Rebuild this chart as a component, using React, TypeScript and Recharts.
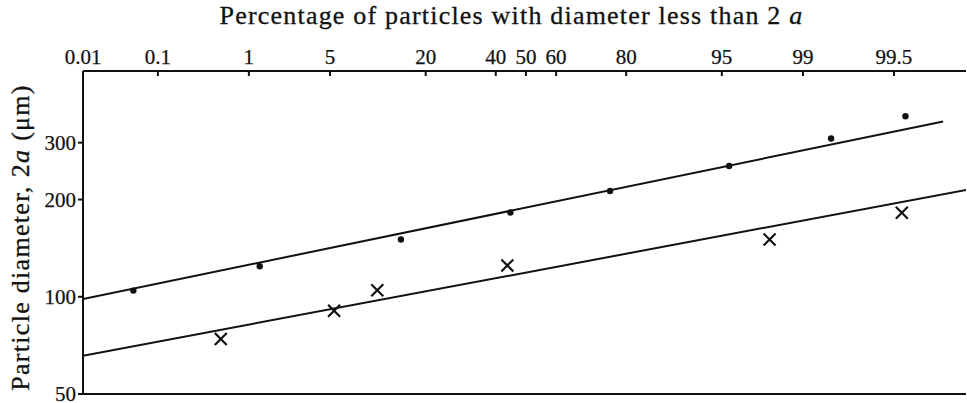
import React from 'react';
import { ScatterChart, Scatter, XAxis, YAxis, ReferenceLine } from 'recharts';

// Measured samples: percentage undersize vs. particle diameter (µm)
const dotPercent = [0.049, 1.27, 14.7, 44.8, 76.0, 95.6, 99.48, 99.928];
const dotDiameter = [104.5, 124.3, 150.4, 182.4, 212.5, 254, 309, 362];

const crossPercent = [0.52, 5.36, 10.6, 43.8, 97.96, 99.92];
const crossDiameter = [74, 90.5, 104.7, 125, 150.4, 182];

// Fitted log-normal lines (end points)
const upperFitPercent = [0.01, 99.977];
const upperFitDiameter = [98.4, 349];
const lowerFitPercent = [0.01, 99.99];
const lowerFitDiameter = [65.7, 215];

// Probability-paper ticks on the top axis
const tickPercent = [0.01, 0.1, 1, 5, 20, 40, 50, 60, 80, 95, 99, 99.9];
const tickLabels = ['0.01', '0.1', '1', '5', '20', '40', '50', '60', '80', '95', '99', '99.5'];
const axisPercentRange = [0.01, 99.989];

const diameterTicks = [50, 100, 200, 300];
const diameterRange = [50, 500];

const FONT = '"Liberation Serif", "Times New Roman", serif';
const INK = '#111';

// Inverse of the standard normal CDF (Acklam's approximation)
function probit(p: number): number {
  const a = [-3.969683028665376e1, 2.209460984245205e2, -2.759285104469687e2, 1.38357751867269e2, -3.066479806614716e1, 2.506628277459239];
  const b = [-5.447609879822406e1, 1.615858368580409e2, -1.556989798598866e2, 6.680131188771972e1, -1.328068155288572e1];
  const c = [-7.784894002430293e-3, -3.223964580411365e-1, -2.400758277161838, -2.549732539343734, 4.374664141464968, 2.938163982698783];
  const d = [7.784695709041462e-3, 3.224671290700398e-1, 2.445134137142996, 3.754408661907416];
  const pl = 0.02425;
  const ph = 1 - pl;
  if (p < pl) {
    const q = Math.sqrt(-2 * Math.log(p));
    return (((((c[0] * q + c[1]) * q + c[2]) * q + c[3]) * q + c[4]) * q + c[5]) / ((((d[0] * q + d[1]) * q + d[2]) * q + d[3]) * q + 1);
  }
  if (p <= ph) {
    const q = p - 0.5;
    const r = q * q;
    return ((((((a[0] * r + a[1]) * r + a[2]) * r + a[3]) * r + a[4]) * r + a[5]) * q) / (((((b[0] * r + b[1]) * r + b[2]) * r + b[3]) * r + b[4]) * r + 1);
  }
  const q = Math.sqrt(-2 * Math.log(1 - p));
  return -(((((c[0] * q + c[1]) * q + c[2]) * q + c[3]) * q + c[4]) * q + c[5]) / ((((d[0] * q + d[1]) * q + d[2]) * q + d[3]) * q + 1);
}

const z = (pct: number) => probit(pct / 100);
const rows = (pct: number[], dia: number[]) => pct.map((p, i) => ({ z: z(p), d: dia[i] }));

const dots = rows(dotPercent, dotDiameter);
const crosses = rows(crossPercent, crossDiameter);
const upperFit = rows(upperFitPercent, upperFitDiameter);
const lowerFit = rows(lowerFitPercent, lowerFitDiameter);
const tickZ = tickPercent.map(z);
const xDomain = axisPercentRange.map(z);

const TopTick = (props: any) => {
  const { x, y, index } = props;
  return (
    <g>
      <line x1={x} x2={x} y1={y + 7} y2={y + 12} stroke={INK} strokeWidth={2} />
      <text x={x} y={y} textAnchor="middle" fontFamily={FONT} fontSize={21} fill={INK} stroke={INK} strokeWidth={0.25}>
        {tickLabels[index]}
      </text>
    </g>
  );
};

const DotShape = (props: any) => <circle cx={props.cx} cy={props.cy} r={3.2} fill={INK} />;

const CrossShape = (props: any) => {
  const { cx, cy } = props;
  const s = 6;
  return (
    <g stroke={INK} strokeWidth={2.2}>
      <line x1={cx - s} y1={cy - s} x2={cx + s} y2={cy + s} />
      <line x1={cx - s} y1={cy + s} x2={cx + s} y2={cy - s} />
    </g>
  );
};

const NoShape = () => <g />;

const TitleLabel = (props: any) => {
  const vb = props.viewBox;
  return (
    <text
      x={vb.x + vb.width / 2 - 13}
      y={24}
      textAnchor="middle"
      fontFamily={FONT}
      fontSize={26}
      letterSpacing={1.2}
      fill={INK}
      stroke={INK}
      strokeWidth={0.3}
    >
      Percentage of particles with diameter less than 2 <tspan fontStyle="italic">a</tspan>
    </text>
  );
};

const YTitle = (props: any) => {
  const vb = props.viewBox;
  const cx = vb.x + 29;
  const cy = vb.y + vb.height / 2 + 5;
  return (
    <text
      x={cx}
      y={cy}
      transform={`rotate(-90 ${cx} ${cy})`}
      textAnchor="middle"
      fontFamily={FONT}
      fontSize={26}
      letterSpacing={1.3}
      fill={INK}
      stroke={INK}
      strokeWidth={0.3}
    >
      Particle diameter, 2<tspan fontStyle="italic">a</tspan> (μm)
    </text>
  );
};

export default function App() {
  return (
    <div style={{ position: 'absolute', left: 0, top: 0, width: 967, height: 403, background: '#fff' }}>
      <ScatterChart width={967} height={403} margin={{ top: 0, right: 1, bottom: 9, left: 0 }}>
        <XAxis
          type="number"
          dataKey="z"
          orientation="top"
          height={71}
          domain={xDomain}
          allowDataOverflow
          ticks={tickZ}
          interval={0}
          tickSize={0}
          tickMargin={7}
          tickLine={false}
          tick={<TopTick />}
          axisLine={{ stroke: INK, strokeWidth: 2 }}
          label={{ content: <TitleLabel /> }}
        />
        <YAxis
          type="number"
          dataKey="d"
          scale="log"
          domain={diameterRange}
          allowDataOverflow
          ticks={diameterTicks}
          interval={0}
          width={83}
          tickSize={5}
          tickMargin={2}
          tickLine={{ stroke: INK, strokeWidth: 2 }}
          axisLine={{ stroke: INK, strokeWidth: 2 }}
          tick={{ fontFamily: FONT, fontSize: 21, fill: INK, stroke: INK, strokeWidth: 0.25 }}
          label={{ content: <YTitle /> }}
        />
        <ReferenceLine y={diameterRange[0]} stroke={INK} strokeWidth={2} />
        <Scatter data={upperFit} line={{ stroke: INK, strokeWidth: 2 }} shape={<NoShape />} isAnimationActive={false} />
        <Scatter data={lowerFit} line={{ stroke: INK, strokeWidth: 2 }} shape={<NoShape />} isAnimationActive={false} />
        <Scatter data={dots} shape={<DotShape />} isAnimationActive={false} />
        <Scatter data={crosses} shape={<CrossShape />} isAnimationActive={false} />
      </ScatterChart>
    </div>
  );
}
